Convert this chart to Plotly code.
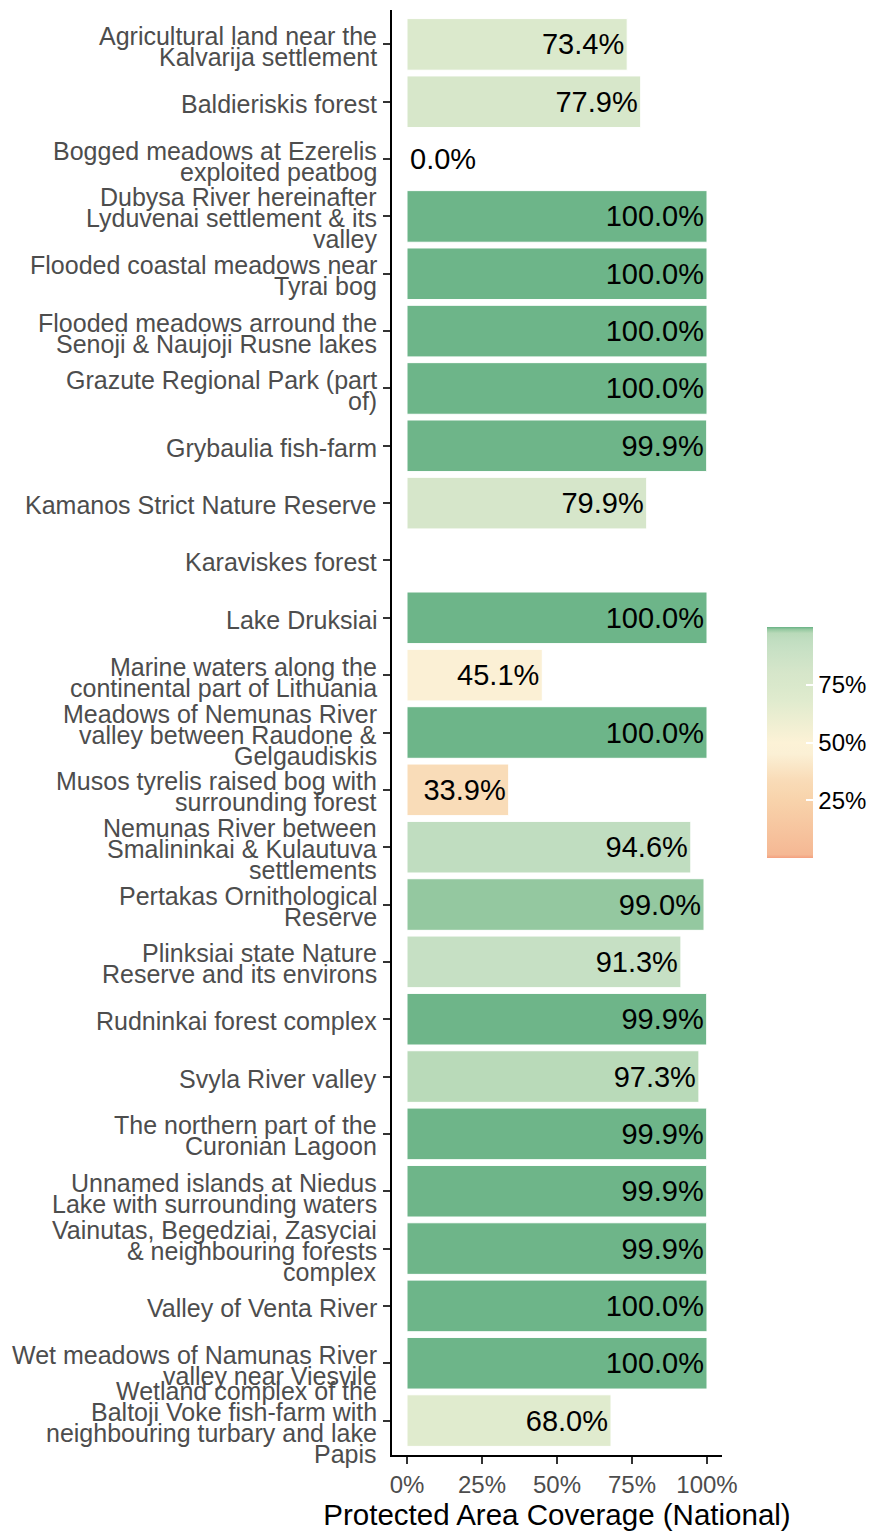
import plotly.graph_objects as go

sites = [
    "Agricultural land near the\nKalvarija settlement",
    "Baldieriskis forest",
    "Bogged meadows at Ezerelis\nexploited peatbog",
    "Dubysa River hereinafter\nLyduvenai settlement & its\nvalley",
    "Flooded coastal meadows near\nTyrai bog",
    "Flooded meadows arround the\nSenoji & Naujoji Rusne lakes",
    "Grazute Regional Park (part\nof)",
    "Grybaulia fish-farm",
    "Kamanos Strict Nature Reserve",
    "Karaviskes forest",
    "Lake Druksiai",
    "Marine waters along the\ncontinental part of Lithuania",
    "Meadows of Nemunas River\nvalley between Raudone &\nGelgaudiskis",
    "Musos tyrelis raised bog with\nsurrounding forest",
    "Nemunas River between\nSmalininkai & Kulautuva\nsettlements",
    "Pertakas Ornithological\nReserve",
    "Plinksiai state Nature\nReserve and its environs",
    "Rudninkai forest complex",
    "Svyla River valley",
    "The northern part of the\nCuronian Lagoon",
    "Unnamed islands at Niedus\nLake with surrounding waters",
    "Vainutas, Begedziai, Zasyciai\n& neighbouring forests\ncomplex",
    "Valley of Venta River",
    "Wet meadows of Namunas River\nvalley near Viesvile",
    "Wetland complex of the\nBaltoji Voke fish-farm with\nneighbouring turbary and lake\nPapis",
]
coverage = [73.4, 77.9, 0.0, 100.0, 100.0, 100.0, 100.0, 99.9, 79.9, None,
            100.0, 45.1, 100.0, 33.9, 94.6, 99.0, 91.3, 99.9, 97.3, 99.9,
            99.9, 99.9, 100.0, 100.0, 68.0]
x_ticks = [0, 25, 50, 75, 100]
x_ticklabels = ["0%", "25%", "50%", "75%", "100%"]
legend_ticks = [25, 50, 75]
legend_ticklabels = ["25%", "50%", "75%"]

colorscale = [
    [0.0, "#f4a07f"],
    [0.015, "#f5b894"],
    [0.25, "#f8d3ab"],
    [0.34, "#f9dcb8"],
    [0.451, "#fbf0d5"],
    [0.5, "#fcf2d6"],
    [0.68, "#e0ebce"],
    [0.75, "#d9e8cb"],
    [0.80, "#d6e6ca"],
    [0.913, "#c6e0c4"],
    [0.946, "#c0ddc0"],
    [0.973, "#b9dab9"],
    [0.99, "#94c8a0"],
    [0.998, "#70b68a"],
    [1.0, "#6db589"],
]

FONT = "Liberation Sans, Arial, sans-serif"
keys = [s.replace("\n", " ") for s in sites]
texts = [f"{v:.1f}%" if v is not None else "" for v in coverage]
positions = ["inside" if (v is not None and v > 0) else "outside" for v in coverage]
colors = [v if v is not None else 0 for v in coverage]

fig = go.Figure()
fig.add_trace(go.Bar(
    x=coverage,
    y=keys,
    orientation="h",
    width=0.9,
    text=texts,
    textposition=positions,
    insidetextanchor="end",
    constraintext="none",
    cliponaxis=False,
    textfont=dict(family=FONT, size=29, color="black"),
    marker=dict(
        color=colors,
        colorscale=colorscale,
        cmin=0,
        cmax=100,
        line=dict(color="white", width=1),
        showscale=True,
        colorbar=dict(
            x=(767 - 392) / 330, xanchor="left", xpad=0,
            y=(1455 - 742.5) / 1445, yanchor="middle", ypad=0,
            thickness=46, lenmode="pixels", len=231,
            outlinewidth=0,
            tickvals=legend_ticks, ticktext=legend_ticklabels,
            ticks="inside", tickcolor="white", ticklen=7, tickwidth=2,
            tickfont=dict(family=FONT, size=24, color="black"),
        ),
    ),
    hoverinfo="x+y",
))

line_h = 21
annotations = []
for key, label in zip(keys, sites):
    lines = label.split("\n")
    n = len(lines)
    for i, ln in enumerate(lines):
        annotations.append(dict(
            xref="paper", x=0, xanchor="right", xshift=-13,
            yref="y", y=key, yanchor="middle",
            yshift=((n - 1) / 2 - i) * line_h - 2,
            text=ln, showarrow=False,
            font=dict(family=FONT, size=25, color="#4d4d4d"),
        ))

fig.update_layout(
    width=879, height=1534,
    margin=dict(l=392, r=157, t=10, b=79, autoexpand=False),
    paper_bgcolor="white", plot_bgcolor="white",
    showlegend=False,
    annotations=annotations,
    xaxis=dict(
        range=[-5, 105],
        tickvals=x_ticks, ticktext=x_ticklabels,
        ticks="outside", ticklen=7, tickwidth=2, tickcolor="#333333",
        showline=True, linecolor="black", linewidth=2,
        showgrid=False, zeroline=False, automargin=False,
        tickfont=dict(family=FONT, size=24, color="#4d4d4d"),
        title=dict(text="Protected Area Coverage (National)",
                   font=dict(family=FONT, size=29.5, color="black"), standoff=4),
    ),
    yaxis=dict(
        type="category",
        categoryorder="array", categoryarray=keys,
        range=[len(keys) - 0.4, -0.6],
        ticks="outside", ticklen=7, tickwidth=2, tickcolor="#333333",
        showticklabels=False, automargin=False,
        showline=True, linecolor="black", linewidth=2,
        showgrid=False, zeroline=False,
    ),
)

fig.write_html(
    "out.html",
    config={"displayModeBar": False},
    post_script="document.body.style.margin='0';document.body.style.padding='0';",
)
